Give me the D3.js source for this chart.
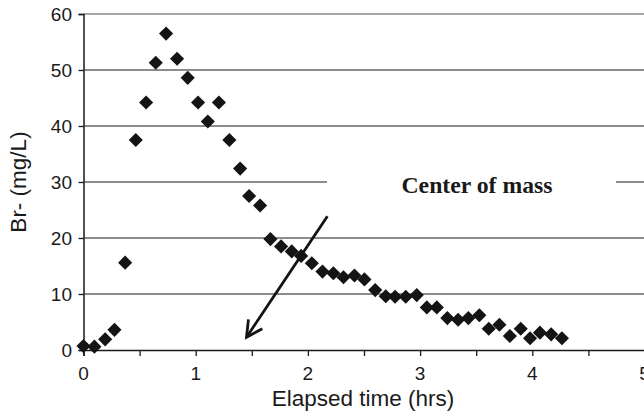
<!DOCTYPE html>
<html>
<head>
<meta charset="utf-8">
<script src="https://cdn.jsdelivr.net/npm/d3@7"></script>
<style>
  html, body { margin: 0; padding: 0; background: #fff; }
  svg { display: block; }
</style>
</head>
<body>
<svg id="chart" width="644" height="413"></svg>
<script>
// ---- data ----
const timeHrs = [0.00, 0.097, 0.193, 0.276, 0.371, 0.466, 0.558, 0.644, 0.736, 0.834,
  0.929, 1.021, 1.108, 1.207, 1.300, 1.396, 1.476, 1.574, 1.666, 1.761,
  1.856, 1.940, 2.035, 2.130, 2.227, 2.317, 2.415, 2.504, 2.600, 2.694,
  2.777, 2.872, 2.970, 3.060, 3.149, 3.243, 3.339, 3.430, 3.528, 3.612,
  3.707, 3.800, 3.897, 3.980, 4.068, 4.168, 4.264];
const bromide = [0.7, 0.6, 1.9, 3.6, 15.6, 37.5, 44.2, 51.3, 56.5, 52.0,
  48.6, 44.2, 40.8, 44.2, 37.5, 32.4, 27.5, 25.8, 19.8, 18.5,
  17.6, 16.8, 15.5, 14.0, 13.7, 13.0, 13.3, 12.6, 10.7, 9.6,
  9.5, 9.5, 9.8, 7.6, 7.6, 5.7, 5.4, 5.7, 6.2, 3.8,
  4.5, 2.5, 3.8, 2.1, 3.1, 2.8, 2.1];
const xTickLabels = [0, 1, 2, 3, 4, 5];
const xMinorTicks = [0, 0.5, 1, 1.5, 2, 2.5, 3, 3.5, 4, 4.5, 5];
const yTickLabels = [0, 10, 20, 30, 40, 50, 60];
const annotationText = "Center of mass";
const arrowFrom = [2.174, 23.9];
const arrowTo = [1.453, 2.27];
const xTitle = "Elapsed time (hrs)";
const yTitle = "Br- (mg/L)";

// ---- layout ----
const svg = d3.select("#chart");
const pLeft = 83.5, pRight = 644.5, pTop = 14, pBottom = 350;
const x = d3.scaleLinear().domain([0, 5]).range([pLeft, pRight]);
const y = d3.scaleLinear().domain([0, 60]).range([pBottom, pTop]);
const sans = "'Liberation Sans', Arial, Helvetica, sans-serif";
const serif = "'Liberation Serif', 'Times New Roman', Times, serif";

// gridlines
svg.append("g").selectAll("line")
  .data(yTickLabels.filter(d => d > 0))
  .join("line")
  .attr("x1", pLeft).attr("x2", pRight)
  .attr("y1", d => y(d)).attr("y2", d => y(d))
  .attr("stroke", d => d === 60 ? "#8a8a8a" : "#1a1a1a")
  .attr("stroke-width", d => d === 60 ? 1.6 : 1.2);

// white box behind annotation
svg.append("rect")
  .attr("x", 327).attr("y", y(30) - 14)
  .attr("width", 616 - 327).attr("height", 28)
  .attr("fill", "#fff");

svg.append("text")
  .attr("x", 477).attr("y", 193)
  .attr("text-anchor", "middle")
  .attr("font-family", serif)
  .attr("font-weight", "bold")
  .attr("font-size", 24)
  .attr("fill", "#1a1a1a")
  .attr("textLength", 151)
  .attr("lengthAdjust", "spacingAndGlyphs")
  .text(annotationText);

// x axis
const xAxis = svg.append("g").attr("transform", `translate(0,${pBottom})`)
  .call(d3.axisBottom(x).tickValues(xMinorTicks).tickSize(6).tickFormat(""));
xAxis.select(".domain").attr("stroke", "#1a1a1a").attr("stroke-width", 1.5);
xAxis.selectAll(".tick line").attr("stroke", "#1a1a1a").attr("stroke-width", 1.3);

svg.append("g").selectAll("text")
  .data(xTickLabels).join("text")
  .attr("x", d => x(d)).attr("y", 380)
  .attr("text-anchor", "middle")
  .attr("font-family", sans).attr("font-size", 19).attr("fill", "#1a1a1a")
  .text(d => d);

// y axis
const yAxis = svg.append("g").attr("transform", `translate(${pLeft},0)`)
  .call(d3.axisLeft(y).tickValues(yTickLabels).tickSize(5).tickFormat(""));
yAxis.select(".domain").attr("stroke", "#1a1a1a").attr("stroke-width", 1.5);
yAxis.selectAll(".tick line").attr("stroke", "#1a1a1a").attr("stroke-width", 1.3);

svg.append("g").selectAll("text")
  .data(yTickLabels).join("text")
  .attr("x", 72).attr("y", d => y(d) + 7)
  .attr("text-anchor", "end")
  .attr("font-family", sans).attr("font-size", 19).attr("fill", "#1a1a1a")
  .text(d => d);

// titles
svg.append("text")
  .attr("x", (pLeft + pRight) / 2 - 1).attr("y", 406)
  .attr("text-anchor", "middle")
  .attr("font-family", sans).attr("font-size", 22.5).attr("fill", "#1a1a1a")
  .text(xTitle);

svg.append("text")
  .attr("transform", `translate(26,${(pTop + pBottom) / 2}) rotate(-90)`)
  .attr("text-anchor", "middle")
  .attr("font-family", sans).attr("font-size", 22.5).attr("fill", "#1a1a1a")
  .text(yTitle);

// points
const pts = timeHrs.map((t, i) => [t, bromide[i]]);
const diamond = d3.symbol().type(d3.symbolSquare).size(100);
svg.append("g").selectAll("path")
  .data(pts).join("path")
  .attr("d", diamond)
  .attr("transform", d => `translate(${x(d[0])},${y(d[1])}) rotate(45)`)
  .attr("fill", "#141414");

// arrow
const ax0 = x(arrowFrom[0]), ay0 = y(arrowFrom[1]);
const ax1 = x(arrowTo[0]), ay1 = y(arrowTo[1]);
const ang = Math.atan2(ay0 - ay1, ax0 - ax1);
const wing = 18, spread = Math.PI / 6.5;
const w1 = [ax1 + wing * Math.cos(ang - spread), ay1 + wing * Math.sin(ang - spread)];
const w2 = [ax1 + wing * Math.cos(ang + spread), ay1 + wing * Math.sin(ang + spread)];
svg.append("line")
  .attr("x1", ax0).attr("y1", ay0).attr("x2", ax1).attr("y2", ay1)
  .attr("stroke", "#141414").attr("stroke-width", 2.8);
svg.append("path")
  .attr("d", d3.line()([w1, [ax1, ay1], w2]))
  .attr("fill", "none").attr("stroke", "#141414").attr("stroke-width", 2.8)
  .attr("stroke-linejoin", "miter");
</script>
</body>
</html>
